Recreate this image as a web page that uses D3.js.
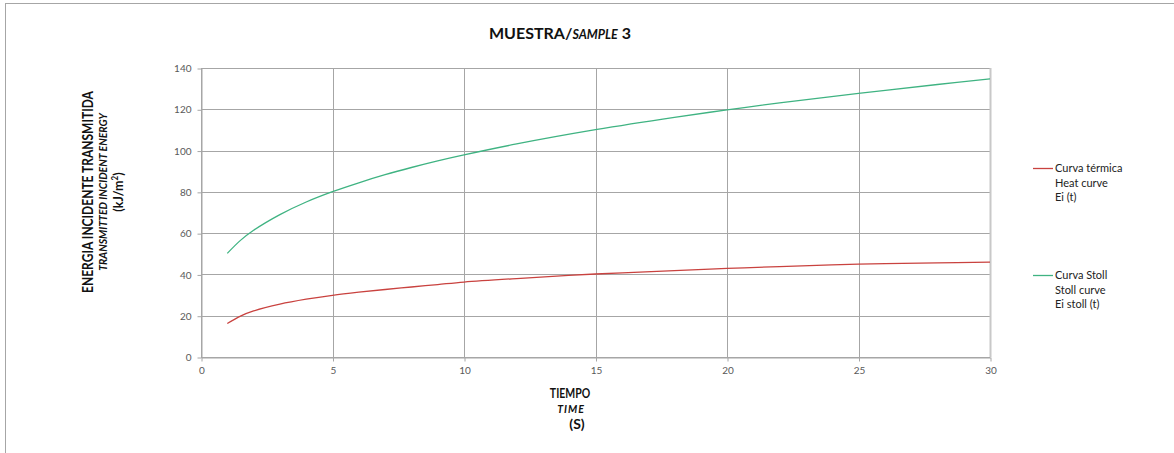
<!DOCTYPE html>
<html>
<head>
<meta charset="utf-8">
<script src="https://cdn.jsdelivr.net/npm/d3@7"></script>
<style>
  body { margin: 0; background: #fff; }
  svg { display: block; font-family: Lato, "Open Sans", sans-serif; }
</style>
</head>
<body>
<svg id="chart" width="1174" height="453"></svg>
<script>
// time (s)
const times = [1, 1.5, 2, 3, 4, 5, 6, 7, 8, 9, 10, 12, 15, 18, 20, 22, 25, 28, 30];
// Curva térmica / Heat curve Ei (t)
const heatCurve = [16.2, 19.8, 22.3, 25.6, 28.0, 29.9, 31.4, 32.7, 33.9, 35.1, 36.3, 38.0, 40.2, 41.8, 42.9, 43.8, 45.0, 45.6, 46.0];
// Curva Stoll / Stoll curve Ei stoll (t)
const stollCurve = [50.2, 56.5, 61.4, 69.0, 75.1, 80.1, 84.4, 88.3, 91.8, 95.0, 97.9, 103.2, 110.1, 116.1, 119.7, 123.1, 127.7, 132.0, 134.7];
const xTicks = [0, 5, 10, 15, 20, 25, 30];
const yTicks = [0, 20, 40, 60, 80, 100, 120, 140];
const seriesNames = [
    ["Curva térmica", "Heat curve", "Ei (t)"],
    ["Curva Stoll", "Stoll curve", "Ei stoll (t)"]
];

const svg = d3.select("#chart");

// outer frame (cropped on the right/bottom)
svg.append("rect")
    .attr("x", 5.5).attr("y", 3.5)
    .attr("width", 1200).attr("height", 500)
    .attr("fill", "none")
    .attr("stroke", "#a6a6a6")
    .attr("stroke-width", 1);

const margin = { left: 201, top: 68, right: 1174 - 990, bottom: 453 - 357 };
const width = 1174 - margin.left - margin.right;
const height = 453 - margin.top - margin.bottom;

const x = d3.scaleLinear().domain([0, 30]).range([0, width]);
const y = d3.scaleLinear().domain([0, 140]).range([height, 0]);

const g = svg.append("g")
    .attr("transform", `translate(${margin.left},${margin.top})`);

// gridlines
g.append("g")
    .selectAll("line")
    .data(yTicks)
    .enter().append("line")
    .attr("x1", 0).attr("x2", width)
    .attr("y1", d => Math.round(y(d)) + 0.5)
    .attr("y2", d => Math.round(y(d)) + 0.5)
    .attr("stroke", "#a6a6a6");

g.append("g")
    .selectAll("line")
    .data(xTicks)
    .enter().append("line")
    .attr("y1", 0).attr("y2", height)
    .attr("x1", d => Math.round(x(d)) + 0.5)
    .attr("x2", d => Math.round(x(d)) + 0.5)
    .attr("stroke", d => d === 30 ? "#c8c8c8" : "#a6a6a6")
    .attr("stroke-width", d => d === 30 ? 2 : 1);

// axes
const xAxis = g.append("g")
    .attr("transform", `translate(0.5,${Math.round(height) + 0.5})`)
    .call(d3.axisBottom(x).tickValues(xTicks).tickSize(4).tickPadding(5).tickSizeOuter(0));
const yAxis = g.append("g")
    .attr("transform", "translate(0.5,0.5)")
    .call(d3.axisLeft(y).tickValues(yTicks).tickSize(4).tickPadding(6).tickSizeOuter(0));

[xAxis, yAxis].forEach(a => {
    a.select(".domain").attr("stroke", "#a6a6a6");
    a.selectAll(".tick line").attr("stroke", "#a6a6a6");
    a.selectAll(".tick text")
        .attr("fill", "#595959")
        .style("font-size", "10px")
        .style("font-family", "Lato, 'Open Sans', sans-serif");
});

// curves
const line = d3.line()
    .x((d, i) => x(times[i]))
    .y(d => y(d))
    .curve(d3.curveCatmullRom.alpha(0.5));

const colors = ["#c9423f", "#3fb382"];
[heatCurve, stollCurve].forEach((s, i) => {
    g.append("path")
        .datum(s)
        .attr("fill", "none")
        .attr("stroke", colors[i])
        .attr("stroke-width", 1.3)
        .attr("d", line);
});

// title
const title = svg.append("text")
    .attr("x", 560).attr("y", 39)
    .attr("text-anchor", "middle")
    .attr("fill", "#111")
    .style("font-weight", "bold")
    .style("font-size", "16px");
title.append("tspan").text("MUESTRA/");
title.append("tspan").text("SAMPLE").style("font-style", "italic").style("font-size", "12.5px");
title.append("tspan").text(" 3");

// y axis title (text is a bit taller than wide in the original)
const yTitle = svg.append("g").attr("transform", "translate(0,192) rotate(-90)");
yTitle.append("text")
    .attr("transform", "translate(0,93) scale(1,1.2)")
    .attr("text-anchor", "middle").attr("fill", "#111")
    .style("font-weight", "bold").style("font-size", "12px")
    .text("ENERGIA INCIDENTE TRANSMITIDA");
yTitle.append("text")
    .attr("transform", "translate(0,107) scale(1,1.1)")
    .attr("text-anchor", "middle").attr("fill", "#111")
    .style("font-weight", "bold").style("font-style", "italic").style("font-size", "10.5px")
    .text("TRANSMITTED INCIDENT ENERGY");
const unit = yTitle.append("text")
    .attr("transform", "translate(0,123) scale(1,1.1)")
    .attr("text-anchor", "middle").attr("fill", "#111")
    .style("font-weight", "bold").style("font-size", "12.5px");
unit.append("tspan").text("(kJ/m");
unit.append("tspan").text("2").attr("dy", -5).style("font-size", "8px");
unit.append("tspan").text(")").attr("dy", 5);

// x axis title
svg.append("text")
    .attr("transform", "translate(570,398) scale(1,1.3)")
    .attr("text-anchor", "middle").attr("fill", "#111")
    .style("font-weight", "bold").style("font-size", "10.5px")
    .text("TIEMPO");
svg.append("text")
    .attr("transform", "translate(571,413)")
    .attr("text-anchor", "middle").attr("fill", "#111")
    .style("font-weight", "bold").style("font-style", "italic").style("font-size", "10.5px")
    .style("letter-spacing", "1px")
    .text("TIME");
svg.append("text")
    .attr("transform", "translate(577,429)")
    .attr("text-anchor", "middle").attr("fill", "#111")
    .style("font-weight", "bold").style("font-size", "14px")
    .text("(S)");

// legend
const legendY = [168, 275];
seriesNames.forEach((names, i) => {
    const lg = svg.append("g").attr("transform", `translate(1033,${legendY[i]})`);
    lg.append("line")
        .attr("x1", 0).attr("x2", 20)
        .attr("y1", 0.5).attr("y2", 0.5)
        .attr("stroke", colors[i])
        .attr("stroke-width", 1.3);
    names.forEach((t, j) => {
        lg.append("text")
            .attr("x", 22).attr("y", 4 + j * 14.5)
            .attr("fill", "#222")
            .style("font-size", "11px")
            .text(t);
    });
});
</script>
</body>
</html>
